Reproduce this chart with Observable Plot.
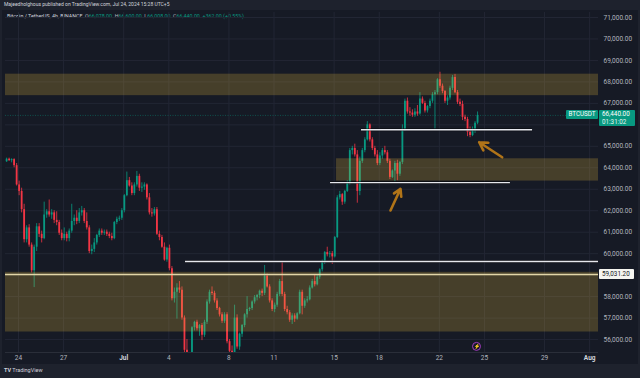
<!DOCTYPE html>
<html><head><meta charset="utf-8">
<script src="https://cdn.jsdelivr.net/npm/d3@7"></script>
<script src="https://cdn.jsdelivr.net/npm/@observablehq/plot@0.6"></script>
<style>
body{margin:0;background:#1e222d;width:640px;height:378px;overflow:hidden;position:relative;font-family:Roboto,"Noto Sans",sans-serif;}
.abs{position:absolute;white-space:nowrap;line-height:1;}
#panel{position:absolute;left:2px;top:10px;width:636px;height:354px;background:#161a25;}
#chart{position:absolute;left:0;top:0;}
.g{color:#089981;}
</style></head><body>
<div id="panel"></div>
<div class="abs" style="left:4px;top:2px;font-size:5px;color:#d1d4dc">Majeedholghous published on TradingView.com, Jul 24, 2024 15:28 UTC+5</div>
<div class="abs" id="legend" style="left:7px;top:14px;font-size:5.3px;color:#b2b5be"></div>
<div id="chart"></div>
<div class="abs" style="left:4px;top:368px;font-size:5.5px;color:#d1d4dc"><b>TV</b> TradingView</div>
<script>
// ---- data (BTCUSDT 4h candles, Jun 23 05:00 -> Jul 24 13:00, UTC+5) ----
const firstBar = "2024-06-23T05:00:00Z";
const barHours = 4;
const opens = [64280,64400,64330,64380,64100,63200,62900,62050,60650,61200,60400,59200,60300,61250,60900,60700,61800,61950,61800,61900,61550,61450,60950,60700,60900,60700,61050,61500,61650,61500,61900,62000,61500,61200,60100,60200,60500,60850,61050,60950,61000,60900,60800,60700,61450,61600,61650,62000,62700,63400,63150,62800,63200,63600,63050,63100,63200,62600,61900,61850,62050,60900,60750,60300,59700,60250,59300,57900,58200,58400,58300,57000,55500,54200,54600,56550,56800,56500,56650,56200,56800,57750,58200,58150,57800,57450,57150,56850,57150,55900,55450,55100,57000,55650,56250,56650,57150,57400,57450,57750,57950,58050,58250,58150,58950,58450,57800,57400,57600,58100,58700,58100,57400,57250,56900,57100,56950,57200,58200,57550,57800,57850,58400,58700,58550,58900,59250,59600,60050,59950,60000,59850,60750,62600,62750,62400,62900,63300,64800,64900,64600,62900,64300,64800,65300,66000,65300,64900,64600,64200,64550,64800,64700,64300,63550,63850,64200,63700,64250,65800,67100,66600,66550,66450,66600,66500,67200,67000,66650,66850,67100,67400,67500,68100,67800,67550,67100,67250,67700,68200,67500,67050,66950,66350,66250,65650,65500,65800,66078];
const highs = [64450,64450,64420,64420,64200,63380,63050,62300,61300,61350,60500,60400,61400,61400,61050,62400,62050,62500,62050,62000,61950,61550,61100,61200,61000,61150,62300,61800,62000,62100,62200,62100,61900,61300,60400,60700,60900,61150,61150,61100,61100,61000,60950,61500,61700,61750,62100,62750,63800,63550,63300,63300,63830,63700,63300,63300,63250,62800,62100,62150,62150,61050,60850,60500,60300,60400,59400,58400,58600,58700,58450,57100,56000,55000,56600,56850,56900,56700,56750,56900,57850,58300,58450,58250,57900,57500,57250,57250,57250,56000,55700,57600,57150,56300,56700,57200,58000,57500,57800,58050,58100,58300,58350,59450,59050,58550,57900,57700,58200,58800,59600,58200,57550,57350,57200,57200,57250,58300,58300,57900,58000,58500,58800,59000,59000,59300,59700,60100,60300,60100,60100,60800,62700,62900,62800,62950,63400,64900,65000,65100,64800,64500,64900,65400,66150,66050,65400,65000,64800,64700,64900,65000,64800,64400,63900,64300,64350,64300,66000,67200,67250,66800,66700,66750,66900,67500,67300,67100,66900,67200,67500,67600,68150,68450,67900,67600,67350,67800,68300,68350,67600,67200,67100,66450,66350,65900,65900,66150,66600];
const lows = [64250,64300,64230,64000,63150,62700,61900,60500,60500,60300,59100,58420,60100,60750,60500,60650,61650,61700,61600,61400,61300,60850,60600,60600,60550,60550,60950,61300,61350,61400,61750,61400,61100,60000,59950,60050,60400,60750,60850,60850,60800,60700,60600,60650,61350,61500,61550,61900,62650,63100,62700,62700,63100,62900,62850,62950,62500,61800,61700,61750,60850,60600,60250,59650,59600,59200,57800,57700,56950,58150,56900,55200,53500,53900,54300,56400,56400,56150,55950,56100,56700,57650,58050,57700,57350,57050,56750,56750,55800,55300,54300,54900,55550,55500,56100,56550,57000,57300,57350,57650,57800,57900,58000,58050,58400,57700,57300,57250,57500,58000,58000,57300,57150,56800,56700,56800,56900,57150,57150,57450,57700,57800,58350,58450,58500,58800,59150,59500,59850,59800,59500,59800,60700,62500,62250,62300,62850,63200,64600,64500,62350,62700,64200,64700,65250,65200,64800,64500,64100,64100,64400,64600,64200,63450,63500,63350,63400,63600,64150,65700,66500,66400,66350,66350,66400,66450,66950,66550,66550,66750,67000,65800,67400,67700,67450,67000,66900,67150,67600,67450,66950,66850,66200,66150,65450,65400,65450,65600,66008];
const closes = [64400,64330,64380,64100,63200,62900,62050,60650,61200,60400,59200,60300,61250,60900,60700,61800,61950,61800,61900,61550,61450,60950,60700,60900,60700,61050,61500,61650,61500,61900,62000,61500,61200,60100,60200,60500,60850,61050,60950,61000,60900,60800,60700,61450,61600,61650,62000,62700,63400,63150,62800,63200,63600,63050,63100,63200,62600,61900,61850,62050,60900,60750,60300,59700,60250,59300,57900,58200,58400,58300,57000,55500,54200,54600,56550,56800,56500,56650,56200,56800,57750,58200,58150,57800,57450,57150,56850,57150,55900,55450,55100,57000,55650,56250,56650,57150,57400,57450,57750,57950,58050,58250,58150,58950,58450,57800,57400,57600,58100,58700,58100,57400,57250,56900,57100,56950,57200,58200,57550,57800,57850,58400,58700,58550,58900,59250,59600,60050,59950,60000,59850,60750,62600,62750,62400,62900,63300,64800,64900,64600,62900,64300,64800,65300,66000,65300,64900,64600,64200,64550,64800,64700,64300,63550,63850,64200,63700,64250,65800,67100,66600,66550,66450,66600,66500,67200,67000,66650,66850,67100,67400,67500,68100,67800,67550,67100,67250,67700,68200,67500,67050,66950,66350,66250,65650,65500,65800,66078,66440];

const priceTicks = [56000,57000,58000,59000,60000,61000,62000,63000,64000,65000,66000,67000,68000,69000,70000,71000];
// tick labels hidden behind the price tags on the scale
const hiddenPriceLabels = [59000,66000];
const dateTickDays = ["2024-06-24","2024-06-27","2024-07-01","2024-07-04","2024-07-08","2024-07-11","2024-07-15","2024-07-18","2024-07-22","2024-07-25","2024-07-29","2024-08-01"];
const dateTickLabels = ["24","27","Jul","4","8","11","15","18","22","25","29","Aug"];

// drawn zones (supply / demand)
const zoneFrom = ["2024-06-23T03:14Z","2024-07-15T03:50Z","2024-06-23T03:14Z"];
const zoneTo   = ["2024-08-01T14:08Z","2024-08-01T14:08Z","2024-08-01T14:08Z"];
const zoneLow  = [67360,63380,56350];
const zoneHigh = [68360,64420,59130];
// drawn horizontal lines
const lineFrom  = ["2024-07-05T02:40Z","2024-07-14T18:15Z","2024-07-16T19:40Z"];
const lineTo    = ["2024-08-01T14:08Z","2024-07-26T17:30Z","2024-07-28T04:50Z"];
const linePrice = [59634,63310,65770];
const supportLevel = 59031.20;
// drawn arrows
const arrowFromT = ["2024-07-18T18:00Z","2024-07-26T04:20Z"];
const arrowFromP = [62010,64490];
const arrowToT   = ["2024-07-19T10:00Z","2024-07-24T15:36Z"];
const arrowToP   = [63020,65190];
const eventT = "2024-07-24T11:20Z", eventP = 55680;
const countdown = "01:31:02";

const xStart = new Date("2024-06-23T03:14Z"), xEnd = new Date("2024-08-01T14:08Z");
const GREEN = "#089981", RED = "#f23645";

// ---- build tables ----
const t0 = new Date(firstBar).getTime();
const candles = closes.map((c, i) => ({t: new Date(t0 + i * barHours * 3600e3), o: opens[i], h: highs[i], l: lows[i], c}));
const zones = zoneLow.map((v, i) => ({x1: new Date(zoneFrom[i]), x2: new Date(zoneTo[i]), y1: v, y2: zoneHigh[i]}));
const hlines = linePrice.map((v, i) => ({y: v, x1: new Date(lineFrom[i]), x2: new Date(lineTo[i])}));
const arrows = arrowFromP.map((v, i) => ({x1: new Date(arrowFromT[i]), y1: v, x2: new Date(arrowToT[i]), y2: arrowToP[i]}));
const dateTicks = dateTickDays.map(d => new Date(d + "T00:00Z"));
const labelOf = new Map(dateTicks.map((d, i) => [+d, dateTickLabels[i]]));
const dayTicks = dateTicks.filter(d => /^\d/.test(labelOf.get(+d)));
const monthTicks = dateTicks.filter(d => !/^\d/.test(labelOf.get(+d)));
const labelTicks = priceTicks.filter(p => !hiddenPriceLabels.includes(p));
const col = d => d.c >= d.o ? GREEN : RED;
const last = candles[candles.length - 1];
const fmt = d3.format(",.2f");

const chart = Plot.plot({
  width: 640, height: 378,
  marginLeft: 5, marginRight: 42, marginTop: 12, marginBottom: 26,
  style: {background: "transparent", color: "#b2b5be", fontFamily: "Roboto, sans-serif", fontSize: "6.5px", overflow: "visible"},
  x: {type: "utc", domain: [xStart, xEnd], label: null},
  y: {domain: [55396, 71233], label: null},
  marks: [
    Plot.gridY(priceTicks, {stroke: "#222634", strokeOpacity: 1}),
    Plot.gridX(dateTicks, {stroke: "#222634", strokeOpacity: 1}),
    Plot.ruleY([last.c], {stroke: GREEN, strokeOpacity: 0.55, strokeDasharray: "1,1.5", strokeWidth: 0.8}),
    Plot.ruleX(candles, {x: "t", y1: "l", y2: "h", stroke: col, strokeWidth: 0.8, clip: true}),
    Plot.ruleX(candles, {x: "t", y1: "o", y2: "c", stroke: col, strokeWidth: 1.8, clip: true}),
    Plot.rect(zones, {x1: "x1", x2: "x2", y1: "y1", y2: "y2", fill: "#f3c441", fillOpacity: 0.22}),
    Plot.ruleY([supportLevel], {stroke: "#e2d6a8", strokeWidth: 1.6}),
    Plot.ruleY(hlines, {y: "y", x1: "x1", x2: "x2", stroke: "#000", strokeOpacity: 0.5, strokeWidth: 3}),
    Plot.ruleY(hlines, {y: "y", x1: "x1", x2: "x2", stroke: "#e6e8ee", strokeWidth: 1.4}),
    Plot.arrow(arrows, {x1: "x1", y1: "y1", x2: "x2", y2: "y2", stroke: "#b07418", strokeWidth: 2.6, headLength: 7}),
    Plot.dot([{t: new Date(eventT), p: eventP}], {x: "t", y: "p", r: 4, stroke: "#a23cc0", strokeWidth: 1, fill: "none"}),
    Plot.text([{t: new Date(eventT), p: eventP}], {x: "t", y: "p", text: () => "⚡", fill: "#a23cc0", fontSize: 5}),
    Plot.ruleY([55396], {stroke: "#2a2e39"}),
    Plot.axisY(labelTicks, {anchor: "right", tickSize: 0, tickPadding: 5, tickFormat: fmt, fill: "#b2b5be", label: null}),
    Plot.axisX(dayTicks, {anchor: "bottom", tickSize: 0, tickPadding: 3, tickFormat: d => labelOf.get(+d), fill: "#b2b5be", label: null}),
    Plot.axisX(monthTicks, {anchor: "bottom", tickSize: 0, tickPadding: 3, tickFormat: d => labelOf.get(+d), fill: "#d1d4dc", fontWeight: "bold", label: null})
  ]
});
document.getElementById("chart").appendChild(chart);

// ---- legend + price labels ----
const prev = candles[candles.length - 2].c;
const chg = last.c - prev;
document.getElementById("legend").innerHTML =
  `<span style="color:#d1d4dc">Bitcoin / TetherUS, 4h, BINANCE</span>&nbsp; O<span class="g">${fmt(last.o)}</span>&nbsp; H<span class="g">${fmt(last.h)}</span>&nbsp; L<span class="g">${fmt(last.l)}</span>&nbsp; C<span class="g">${fmt(last.c)}</span>&nbsp; <span class="g">${chg >= 0 ? "+" : ""}${fmt(chg)} (${chg >= 0 ? "+" : ""}${(chg / prev * 100).toFixed(2)}%)</span>`;

const ys = chart.scale("y");
function box(left, top, w, h, bg, color, html, extra = "") {
  const d = document.createElement("div");
  d.className = "abs";
  d.style.cssText = `left:${left}px;top:${top}px;width:${w}px;height:${h}px;background:${bg};color:${color};font-size:6.3px;${extra}`;
  d.innerHTML = html;
  document.body.appendChild(d);
}
const yc = ys.apply(last.c);
box(566, yc - 5, 32, 9.5, GREEN, "#fff", "BTCUSDT", "display:flex;align-items:center;justify-content:center;border-radius:1px;");
box(599, yc - 5, 36, 16.5, GREEN, "#fff", `<div style="padding:1px 0 0 3px">${fmt(last.c)}</div><div style="padding:2px 0 0 3px;opacity:.9">${countdown}</div>`, "border-radius:1px;");
const ysup = ys.apply(supportLevel);
box(599, ysup - 4.7, 35, 9.5, "#f5f5f0", "#131722", fmt(supportLevel), "display:flex;align-items:center;padding-left:3px;box-sizing:border-box;border-radius:1px;");
</script>
</body></html>
